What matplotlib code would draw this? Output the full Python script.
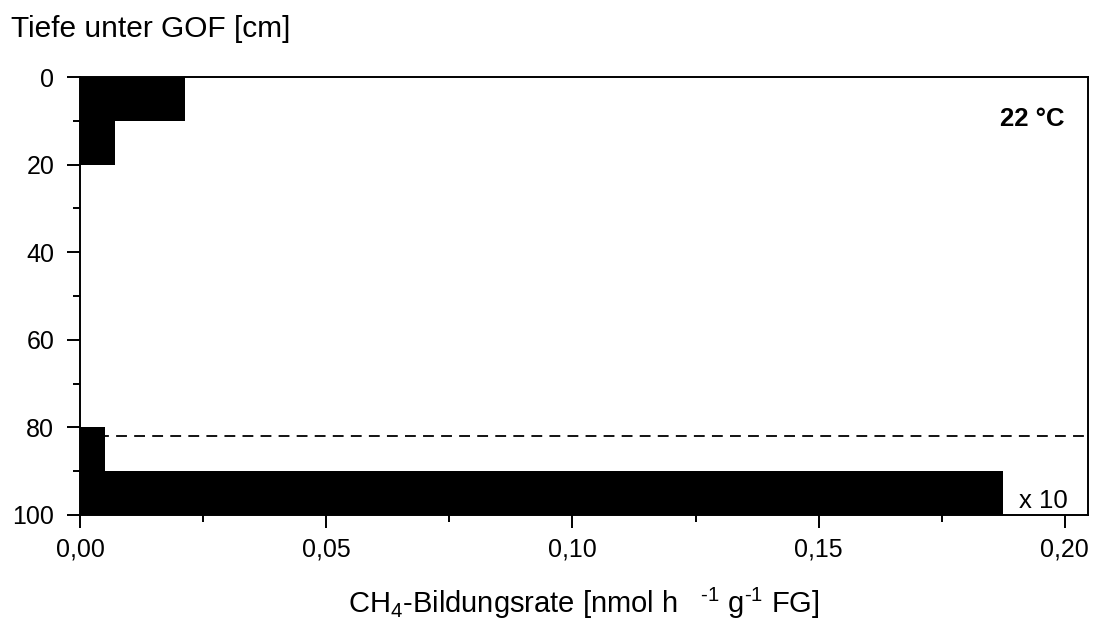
import numpy as np
import matplotlib.pyplot as plt
from matplotlib.ticker import FuncFormatter, MultipleLocator

plt.rcParams['font.family'] = ['Liberation Sans', 'DejaVu Sans']
plt.rcParams['mathtext.fontset'] = 'custom'
plt.rcParams['mathtext.rm'] = 'Liberation Sans'
plt.rcParams['mathtext.it'] = 'Liberation Sans'
plt.rcParams['mathtext.default'] = 'regular'

# Tiefenstufen (Oberkante) und Rate
depth_top = [0, 10, 80, 90]
rate = [0.0214, 0.0071, 0.0051, 0.1874]
layer = 10
dash_depth = 82

fig = plt.figure(figsize=(10.93, 6.24), dpi=100)
ax = fig.add_axes([0.0732, 0.1747, 0.9222, 0.7019])

ax.barh(depth_top, rate, height=layer, align='edge', color='black', edgecolor='black', linewidth=0)
ax.axhline(dash_depth, color='black', linestyle=(0, (6, 4)), linewidth=1.3, zorder=0)

ax.set_xlim(0, 0.2047)
ax.set_ylim(100, 0)

ax.xaxis.set_major_locator(MultipleLocator(0.05))
ax.xaxis.set_minor_locator(MultipleLocator(0.025))
ax.yaxis.set_major_locator(MultipleLocator(20))
ax.yaxis.set_minor_locator(MultipleLocator(10))
ax.xaxis.set_major_formatter(FuncFormatter(lambda v, p: f"{v:.2f}".replace('.', ',')))

ax.tick_params(which='major', direction='out', length=9.5, width=1.4, labelsize=18)
ax.tick_params(axis='y', which='major', pad=9)
ax.tick_params(axis='x', which='major', pad=7)
ax.tick_params(which='minor', direction='out', length=5, width=1.4)
ax.tick_params(top=False, right=False)
for s in ax.spines.values():
    s.set_linewidth(1.4)

ax.set_xlabel(r"CH$_{4}$-Bildungsrate [nmol h$^{\ \ \ \ \text{-}1}$ g$^{\text{-}1}$ FG]",
              fontsize=21, labelpad=17)
fig.text(0.010, 0.9407, "Tiefe unter GOF [cm]", fontsize=21.5, va='baseline', ha='left')

ax.text(0.977, 0.888, "22 °C", transform=ax.transAxes, fontsize=18.5, fontweight='bold', ha='right', va='baseline')
ax.text(0.98, 0.016, "x 10", transform=ax.transAxes, fontsize=18.5, ha='right', va='baseline')

fig.savefig('out.png', dpi=100)
